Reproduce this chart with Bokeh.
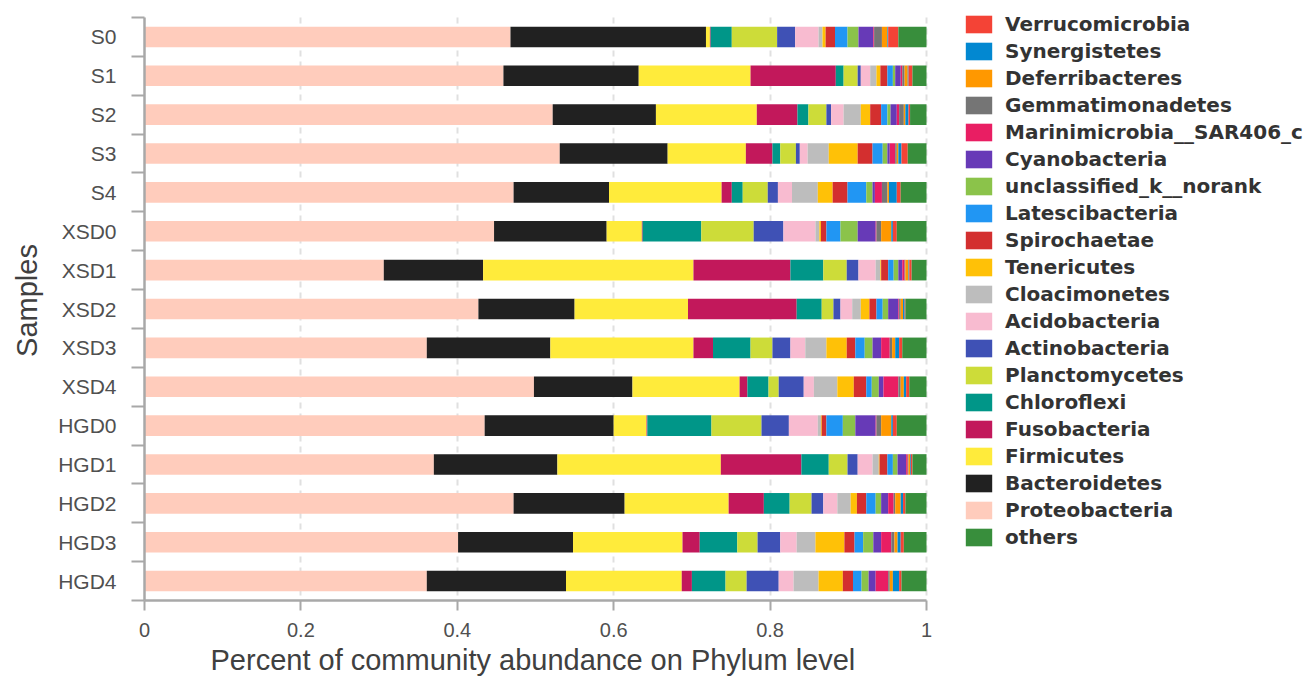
from bokeh.plotting import figure
from bokeh.models import (Range1d, FixedTicker, Legend, LegendItem, Title,
                          NumeralTickFormatter, ColumnDataSource)
from bokeh.embed import file_html
from bokeh.resources import INLINE

samples = ["S0", "S1", "S2", "S3", "S4", "XSD0", "XSD1", "XSD2", "XSD3", "XSD4",
           "HGD0", "HGD1", "HGD2", "HGD3", "HGD4"]

Proteobacteria = [.468, .459, .522, .531, .472, .447, .306, .427, .361, .498, .435, .370, .472, .401, .361]
Bacteroidetes = [.250, .173, .132, .138, .122, .144, .127, .123, .158, .126, .165, .158, .142, .147, .178]
Firmicutes = [.005, .143, .129, .100, .144, .045, .269, .145, .183, .137, .042, .209, .133, .140, .148]
Fusobacteria = [.001, .109, .052, .034, .013, .001, .124, .139, .025, .010, .001, .103, .045, .022, .013]
Chloroflexi = [.027, .010, .014, .010, .014, .075, .042, .032, .048, .027, .082, .035, .033, .048, .043]
Planctomycetes = [.058, .018, .023, .020, .032, .067, .030, .015, .028, .013, .064, .024, .028, .026, .027]
Actinobacteria = [.023, .004, .006, .005, .013, .038, .015, .009, .023, .032, .035, .013, .015, .029, .041]
Acidobacteria = [.030, .012, .016, .010, .018, .041, .022, .015, .019, .013, .037, .019, .018, .021, .019]
Cloacimonetes = [.005, .008, .022, .027, .033, .005, .006, .011, .027, .030, .004, .008, .017, .024, .032]
Tenericutes = [.004, .005, .012, .037, .019, .002, .001, .011, .026, .021, .001, .001, .008, .037, .031]
Spirochaetae = [.012, .009, .014, .019, .019, .007, .009, .009, .011, .016, .006, .010, .012, .013, .013]
Latescibacteria = [.016, .007, .008, .013, .024, .018, .007, .008, .012, .007, .021, .007, .012, .011, .011]
unclassified_k__norank = [.014, .003, .004, .006, .008, .022, .006, .007, .010, .009, .016, .006, .007, .013, .009]
Cyanobacteria = [.019, .007, .008, .003, .003, .023, .005, .013, .011, .006, .026, .011, .009, .010, .009]
Marinimicrobia = [.001, .002, .003, .007, .009, .001, .003, .001, .011, .019, .001, .002, .007, .013, .016]
Gemmatimonadetes = [.010, .003, .006, .002, .007, .006, .001, .002, .003, .003, .006, .001, .002, .004, .002]
Deferribacteres = [.007, .004, .002, .002, .002, .013, .004, .003, .004, .004, .013, .002, .007, .004, .004]
Synergistetes = [.001, .001, .004, .004, .010, .002, .001, .002, .005, .003, .002, .001, .003, .004, .008]
Verrucomicrobia = [.013, .005, .002, .008, .005, .005, .003, .001, .004, .004, .005, .002, .003, .004, .003]
others = [.036, .018, .021, .024, .033, .038, .019, .027, .031, .022, .038, .018, .027, .029, .032]

phyla = ["Proteobacteria", "Bacteroidetes", "Firmicutes", "Fusobacteria", "Chloroflexi",
         "Planctomycetes", "Actinobacteria", "Acidobacteria", "Cloacimonetes", "Tenericutes",
         "Spirochaetae", "Latescibacteria", "unclassified_k__norank", "Cyanobacteria",
         "Marinimicrobia__SAR406_clade", "Gemmatimonadetes", "Deferribacteres",
         "Synergistetes", "Verrucomicrobia", "others"]
series = [Proteobacteria, Bacteroidetes, Firmicutes, Fusobacteria, Chloroflexi,
          Planctomycetes, Actinobacteria, Acidobacteria, Cloacimonetes, Tenericutes,
          Spirochaetae, Latescibacteria, unclassified_k__norank, Cyanobacteria,
          Marinimicrobia, Gemmatimonadetes, Deferribacteres, Synergistetes,
          Verrucomicrobia, others]
colors = ["#FFCCBC", "#212121", "#FFEB3B", "#C2185B", "#009688",
          "#CDDC39", "#3F51B5", "#F8BBD0", "#BDBDBD", "#FFC107",
          "#D32F2F", "#2196F3", "#8BC34A", "#673AB7",
          "#E91E63", "#757575", "#FF9800",
          "#0288D1", "#F44336", "#388E3C"]

keys = ["c%d" % i for i in range(len(phyla))]
data = {"y": list(range(len(samples)))}
for k, s in zip(keys, series):
    data[k] = s
source = ColumnDataSource(data)

W, H = 1304, 683
LEFT, AXIS_RIGHT, AXIS_TOP, BOTTOM = 144, 926, 17, 600
n = len(samples)
# frame spans the whole width/top so the legend is not clipped;
# the axes themselves are bounded to the data extent
x_end = (W - LEFT) / (AXIS_RIGHT - LEFT)
row_px = (BOTTOM - AXIS_TOP) / n
y_top = -0.5 - AXIS_TOP / row_px
p = figure(width=W, height=H, output_backend="svg", toolbar_location=None,
           x_range=Range1d(0, x_end), y_range=Range1d(n - 0.5, y_top),
           min_border_left=LEFT, min_border_right=0, min_border_top=0,
           min_border_bottom=H - BOTTOM)
p.outline_line_color = None
p.background_fill_color = "white"

renderers = p.hbar_stack(keys, y="y", height=0.53, color=colors, source=source,
                         line_width=0)

p.ygrid.visible = False
p.xgrid.grid_line_color = "#e0e0e0"
p.xgrid.grid_line_width = 2
p.xgrid.grid_line_dash = "6 5"
try:
    p.xgrid.cross_bounds = (-0.5, n - 0.5)
except Exception:
    pass

ax = p.xaxis[0]
ax.bounds = (0, 1)
ax.ticker = FixedTicker(ticks=[0, 0.2, 0.4, 0.6, 0.8, 1.0])
ax.formatter = NumeralTickFormatter(format="0.[0]")
ax.axis_line_color = "#a8a8a8"
ax.axis_line_width = 2.5
ax.major_tick_line_color = "#a8a8a8"
ax.major_tick_line_width = 2
ax.major_tick_out = 10
ax.major_tick_in = 0
ax.minor_tick_line_color = None
ax.major_label_text_font = "Liberation Sans"
ax.major_label_text_font_size = "20px"
ax.major_label_text_color = "#505050"
ax.major_label_standoff = 12

xlabel = Title(text="Percent of community abundance on Phylum level",
               align="left", offset=66, standoff=5,
               text_font="Liberation Sans", text_font_size="29px",
               text_font_style="normal", text_color="#404040")
p.add_layout(xlabel, "below")

ay = p.yaxis[0]
ay.bounds = (-0.5, n - 0.5)
ay.ticker = FixedTicker(ticks=list(range(n)),
                        minor_ticks=[i - 0.5 for i in range(n + 1)])
ay.major_label_overrides = {i: s for i, s in enumerate(samples)}
ay.axis_line_color = "#a8a8a8"
ay.axis_line_width = 2.5
ay.major_tick_line_color = None
ay.major_tick_out = 0
ay.major_tick_in = 0
ay.minor_tick_line_color = "#a8a8a8"
ay.minor_tick_line_width = 2
ay.minor_tick_out = 13
ay.minor_tick_in = 0
ay.major_label_text_font = "Liberation Sans"
ay.major_label_text_font_size = "21px"
ay.major_label_text_color = "#505050"
ay.major_label_standoff = 15
ay.axis_label = "Samples"
ay.axis_label_text_font = "Liberation Sans"
ay.axis_label_text_font_size = "29px"
ay.axis_label_text_font_style = "normal"
ay.axis_label_text_color = "#404040"
ay.axis_label_standoff = 12

order = list(range(len(phyla) - 2, -1, -1)) + [len(phyla) - 1]
items = [LegendItem(label=phyla[i], renderers=[renderers[i]]) for i in order]
legend = Legend(items=items, location=(818, 51), orientation="vertical",
                glyph_width=33, glyph_height=22, label_height=22,
                label_standoff=10, spacing=3, padding=0, margin=0,
                border_line_color=None, background_fill_alpha=0,
                label_text_font="DejaVu Sans", label_text_font_style="bold",
                label_text_font_size="20px", label_text_color="#333333")
p.add_layout(legend)

open("out.html", "w").write(file_html(p, INLINE))
